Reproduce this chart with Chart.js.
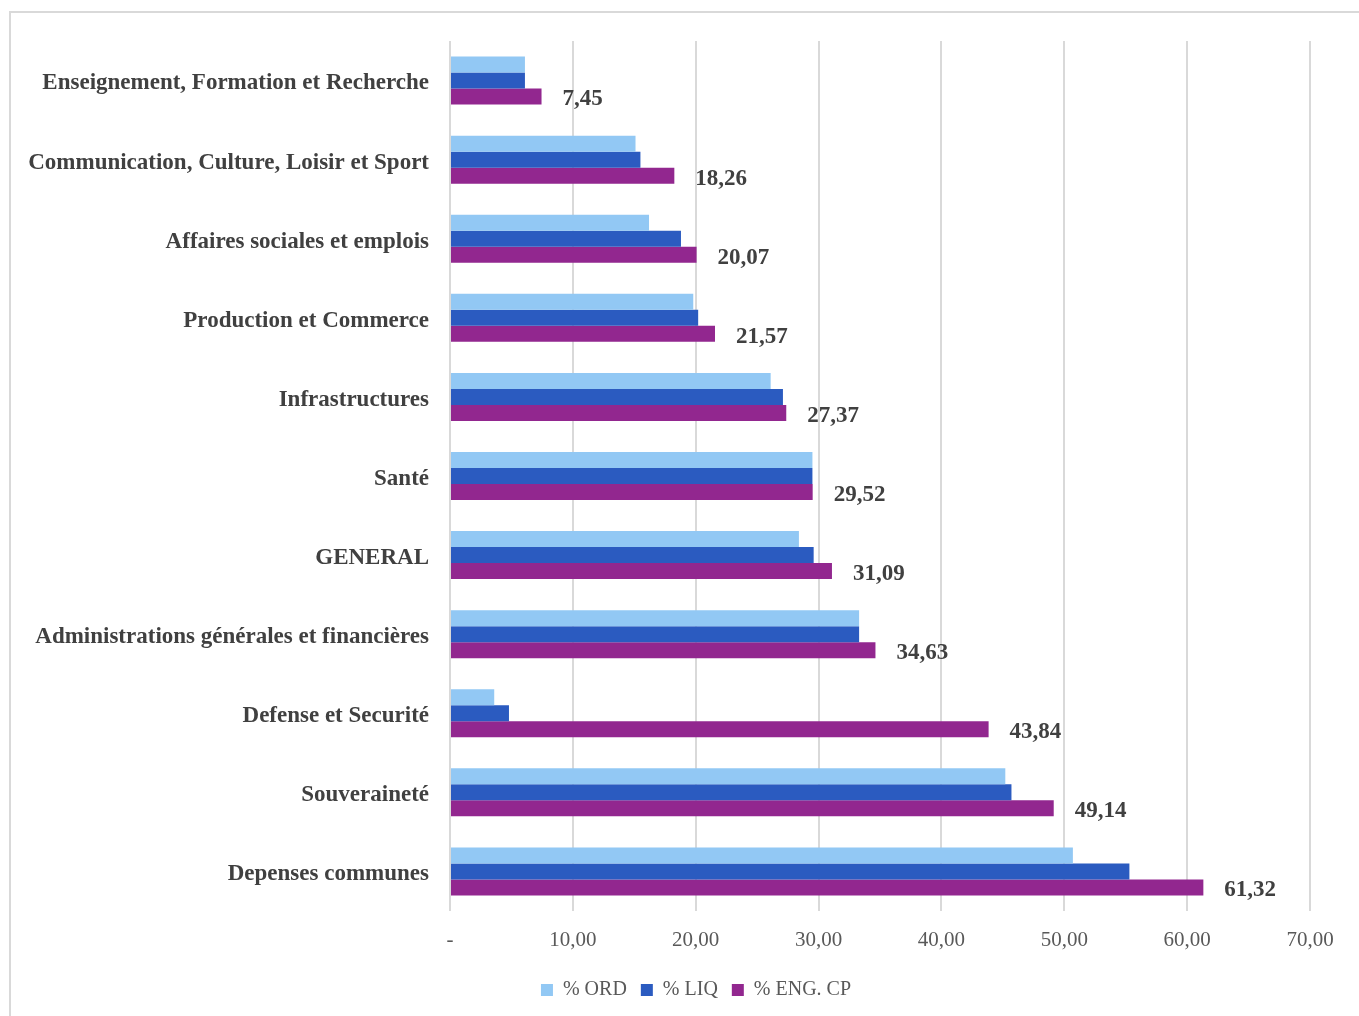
<!DOCTYPE html>
<html>
<head>
<meta charset="utf-8">
<script src="https://cdn.jsdelivr.net/npm/chart.js@4"></script>
<style>
    body { margin: 0; overflow: hidden; background: #ffffff; }
    .cadre { position: absolute; left: 9px; top: 11px; width: 1400px; height: 1100px; border: 2px solid #d9d9d9; box-sizing: border-box; }
    .zone { position: absolute; left: 0; top: 0; width: 1359px; height: 1016px; }
</style>
</head>
<body>
<div class="cadre"></div>
<div class="zone"><canvas id="grafico"></canvas></div>
<script>
const categorias = [
    'Enseignement, Formation et Recherche',
    'Communication, Culture, Loisir et Sport',
    'Affaires sociales et emplois',
    'Production et Commerce',
    'Infrastructures',
    'Santé',
    'GENERAL',
    'Administrations générales et financières',
    'Defense et Securité',
    'Souveraineté',
    'Depenses communes'
];
const pctOrd = [6.1, 15.1, 16.2, 19.8, 26.1, 29.5, 28.4, 33.3, 3.6, 45.2, 50.7];
const pctLiq = [6.1, 15.5, 18.8, 20.2, 27.1, 29.5, 29.6, 33.3, 4.8, 45.7, 55.3];
const pctEngCp = [7.45, 18.26, 20.07, 21.57, 27.37, 29.52, 31.09, 34.63, 43.84, 49.14, 61.32];
const ticksX = [0, 10, 20, 30, 40, 50, 60, 70];

const fonte = "'Liberation Serif', 'DejaVu Serif', serif";
const virgula = v => v.toFixed(2).replace('.', ',');

// rótulos de valor só na série ENG. CP
const rotulos = {
    id: 'rotulos',
    afterDatasetsDraw(chart) {
        const ctx = chart.ctx;
        const meta = chart.getDatasetMeta(2);
        ctx.save();
        ctx.font = 'bold 23px ' + fonte;
        ctx.fillStyle = '#404040';
        ctx.textAlign = 'left';
        ctx.textBaseline = 'middle';
        meta.data.forEach((barra, i) => {
            ctx.fillText(virgula(pctEngCp[i]), barra.x + 21, barra.y + 3);
        });
        ctx.restore();
    }
};

// legenda um pouco à direita, como no original
const moverLegenda = {
    id: 'moverLegenda',
    afterLayout(chart) {
        chart.legend.left += 41;
        chart.legend.right += 41;
    }
};

const ctx = document.getElementById('grafico');
new Chart(ctx, {
    type: 'bar',
    data: {
        labels: categorias,
        datasets: [
            { label: '% ORD', data: pctOrd, backgroundColor: '#92C8F4' },
            { label: '% LIQ', data: pctLiq, backgroundColor: '#2B5BC0' },
            { label: '% ENG. CP', data: pctEngCp, backgroundColor: '#92278F' }
        ]
    },
    options: {
        indexAxis: 'y',
        responsive: true,
        maintainAspectRatio: false,
        animation: false,
        categoryPercentage: 0.607,
        barPercentage: 1,
        layout: { padding: { left: 0, right: 49, top: 41, bottom: 6 } },
        scales: {
            x: {
                min: 0,
                max: 70,
                afterBuildTicks: scale => { scale.ticks = ticksX.map(v => ({ value: v })); },
                afterFit: scale => { scale.height = 55; },
                grid: { color: '#d9d9d9', lineWidth: 2, drawTicks: false },
                border: { display: false },
                ticks: {
                    padding: 17,
                    color: '#595959',
                    font: { family: fonte, size: 21 },
                    callback: v => v === 0 ? '-' : virgula(v)
                }
            },
            y: {
                afterFit: scale => { scale.width = 450; },
                grid: { display: false, drawTicks: false },
                border: { display: false },
                ticks: {
                    padding: 21,
                    labelOffset: 3,
                    color: '#404040',
                    font: { family: fonte, size: 23, weight: 'bold' }
                }
            }
        },
        plugins: {
            legend: {
                position: 'bottom',
                labels: {
                    boxWidth: 12,
                    boxHeight: 12,
                    padding: 14,
                    color: '#595959',
                    font: { family: fonte, size: 20 }
                }
            },
            tooltip: { enabled: false }
        }
    },
    plugins: [rotulos, moverLegenda]
});
</script>
</body>
</html>
